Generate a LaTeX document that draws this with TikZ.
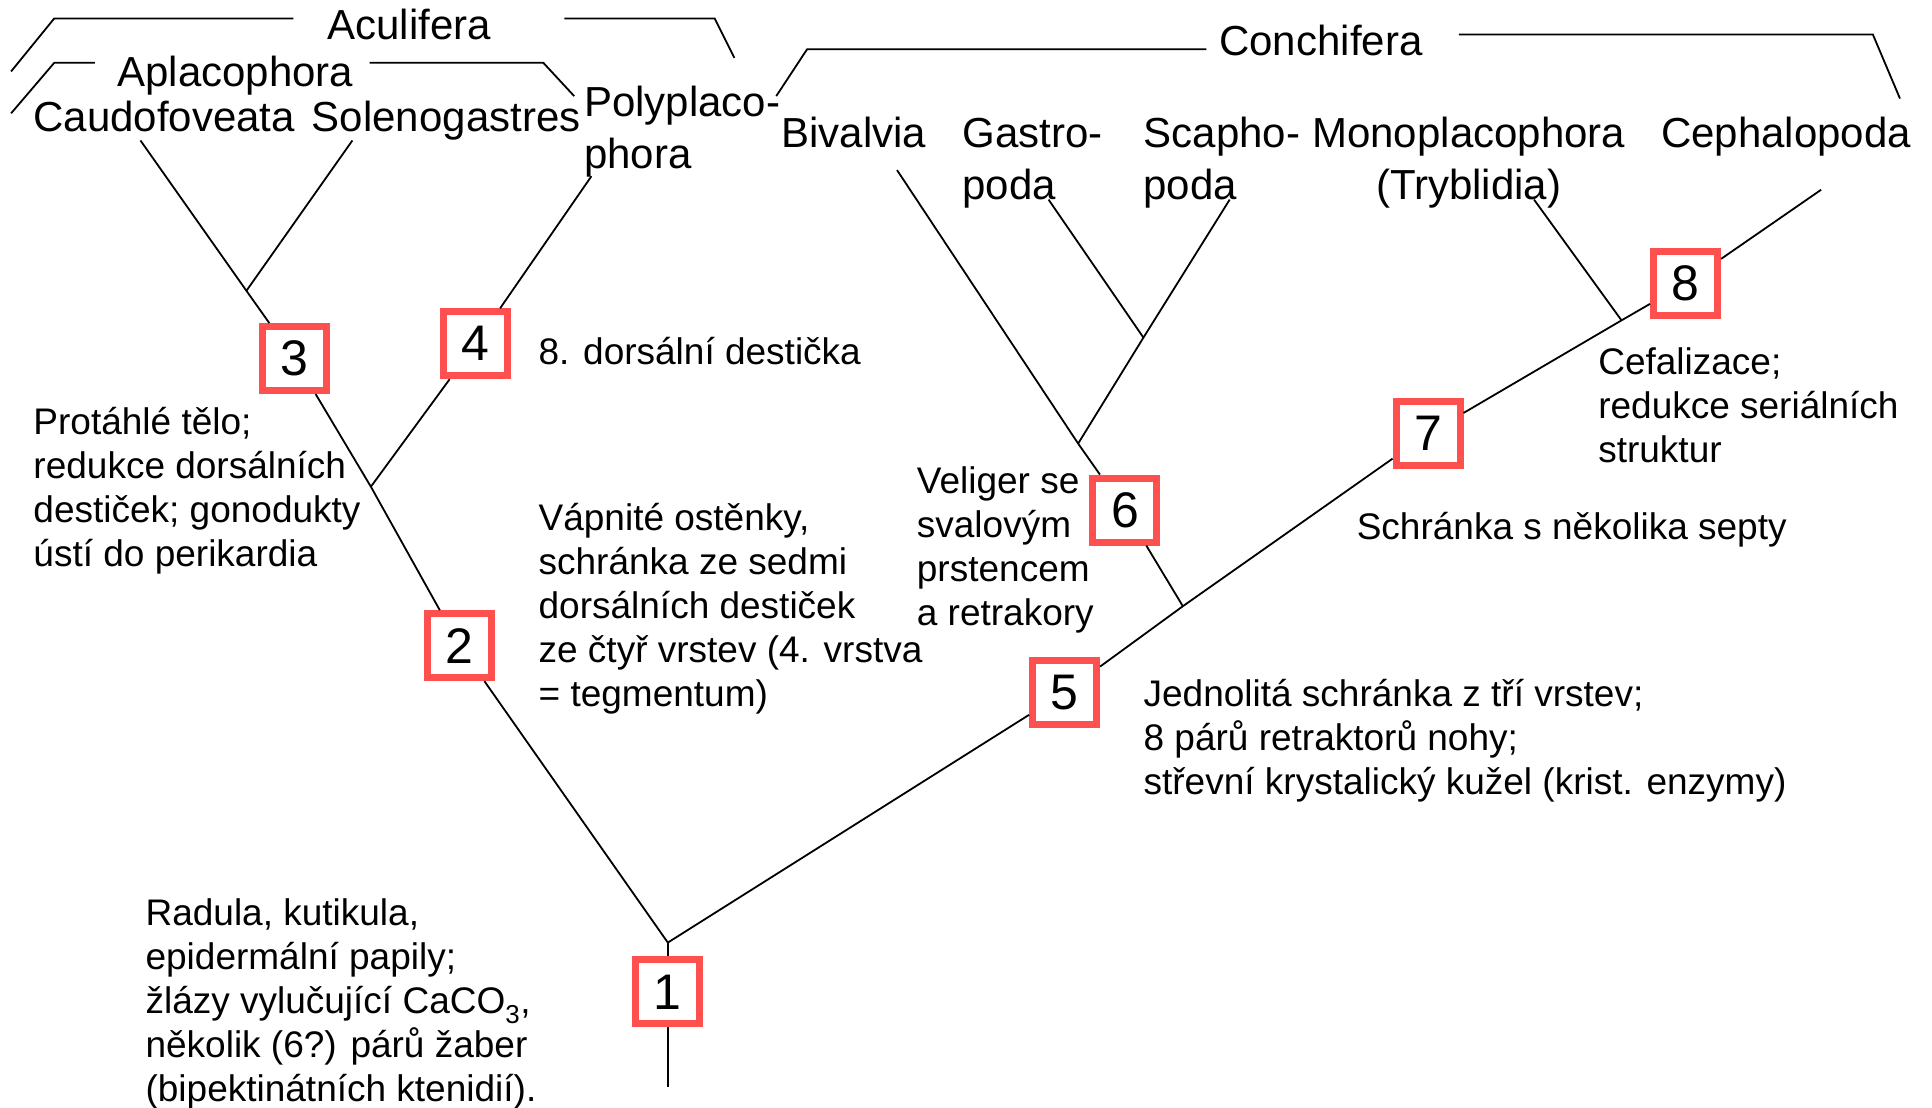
\documentclass[tikz,border=0pt]{standalone}
\usepackage{fontspec}
\setmainfont{Liberation Sans}
\usetikzlibrary{positioning}
\definecolor{boxred}{HTML}{FF5050}
\tikzset{
  taxon/.style={font=\fontsize{42}{52}\selectfont, inner sep=0pt, align=left},
  note/.style={font=\fontsize{37}{44}\selectfont, inner sep=0pt, align=left},
  synbox/.style={draw=boxred, line width=7pt, fill=white, minimum size=64pt,
                 inner sep=0pt, font=\fontsize{50}{50}\selectfont},
  br/.style={line width=1.8pt},
  tr/.style={line width=1.8pt}
}

\begin{document}
\begin{tikzpicture}[x=1.2321pt,y=-1.2321pt]
  \useasboundingbox (0,0) rectangle (1568,899);

  % clade brackets
  \node[taxon, anchor=base] (acu) at (332,32) {Aculifera};
  \node[taxon, anchor=base] (apl) at (191,70) {Aplacophora};
  \node[taxon, anchor=base] (con) at (1072,45) {Conchifera};
  \coordinate (acuA) at (9,58);   \coordinate (acuB) at (44,15);  \coordinate (acuC) at (238,15);
  \coordinate (acuD) at (458,15); \coordinate (acuE) at (580,15); \coordinate (acuF) at (596,47);
  \coordinate (aplA) at (9,92);   \coordinate (aplB) at (44,51);  \coordinate (aplC) at (77,51);
  \coordinate (aplD) at (300,51); \coordinate (aplE) at (441,51); \coordinate (aplF) at (466,78);
  \coordinate (conA) at (630,78);  \coordinate (conB) at (655,40);  \coordinate (conC) at (979,40);
  \coordinate (conD) at (1184,28); \coordinate (conE) at (1520,28); \coordinate (conF) at (1542,80);
  \draw[br] (acuA) -- (acuB) -- (acuC);
  \draw[br] (acuD) -- (acuE) -- (acuF);
  \draw[br] (aplA) -- (aplB) -- (aplC);
  \draw[br] (aplD) -- (aplE) -- (aplF);
  \draw[br] (conA) -- (conB) -- (conC);
  \draw[br] (conD) -- (conE) -- (conF);

  % taxa (base = last line)
  \node[taxon, anchor=base west] (tcau) at (27,107) {Caudofoveata};
  \node[taxon, anchor=base west] (tsol) at (253,107) {Solenogastres};
  \node[taxon, anchor=base west] (tpol) at (474,137) {Polyplaco-\\phora};
  \node[taxon, anchor=base west] (tbiv) at (634,120) {Bivalvia};
  \node[taxon, anchor=base west] (tgas) at (781,162) {Gastro-\\poda};
  \node[taxon, anchor=base west] (tsca) at (928,162) {Scapho-\\poda};
  \node[taxon, anchor=base, align=center] (tmon) at (1192,162) {Monoplacophora\\(Tryblidia)};
  \node[taxon, anchor=base west] (tcep) at (1348,120) {Cephalopoda};

  % synapomorphies
  \node[synbox] (b1) at (542,805) {1};
  \node[synbox] (b2) at (373,524) {2};
  \node[synbox] (b3) at (239,291) {3};
  \node[synbox] (b4) at (386,279) {4};
  \node[synbox] (b5) at (864,562) {5};
  \node[synbox] (b6) at (913,414) {6};
  \node[synbox] (b7) at (1159,352) {7};
  \node[synbox] (b8) at (1368,230) {8};

  \node[note, anchor=base west] (l1) at (118,894)
    {Radula, kutikula,\\epidermální papily;\\žlázy vylučující CaCO\textsubscript{3},\\několik (6?) párů žaber\\(bipektinátních ktenidií).};
  \node[note, anchor=base west] (l2) at (437,573)
    {Vápnité ostěnky,\\schránka ze sedmi\\dorsálních destiček\\ze čtyř vrstev (4. vrstva\\= tegmentum)};
  \node[note, anchor=base west] (l3) at (27,460)
    {Protáhlé tělo;\\redukce dorsálních\\destiček; gonodukty\\ústí do perikardia};
  \node[note, anchor=base west] (l4) at (437,296) {8. dorsální destička};
  \node[note, anchor=base west] (l5) at (928,645)
    {Jednolitá schránka z tří vrstev;\\8 párů retraktorů nohy;\\střevní krystalický kužel (krist. enzymy)};
  \node[note, anchor=base west] (l6) at (744,508) {Veliger se\\svalovým\\prstencem\\a retrakory};
  \node[note, anchor=base west] (l7) at (1101,438) {Schránka s několika septy};
  \node[note, anchor=base west] (l8) at (1297,375) {Cefalizace;\\redukce seriálních\\struktur};

  % tree
  \coordinate (root) at (542,882);
  \coordinate (fork) at (542,765);
  \coordinate (jcs) at (200,236);
  \coordinate (j4) at (301,395);
  \coordinate (j6) at (960,492);
  \coordinate (jgs) at (875,360);
  \coordinate (jg) at (928,274);
  \coordinate (j8) at (1316,260);
  \coordinate (caud) at (114,114);
  \coordinate (sole) at (286,114);
  \coordinate (poly) at (480,143);
  \coordinate (biva) at (728,138);
  \coordinate (gast) at (851,162);
  \coordinate (scap) at (998,162);
  \coordinate (mono) at (1245,162);
  \coordinate (ceph) at (1478,154);

  \draw[tr] (root) -- (b1) -- (fork);
  \draw[tr] (fork) -- (b2) -- (j4) -- (b3) -- (jcs) -- (caud);
  \draw[tr] (jcs) -- (sole);
  \draw[tr] (j4) -- (b4) -- (poly);
  \draw[tr] (fork) -- (b5) -- (j6) -- (b7) -- (j8) -- (b8) -- (ceph);
  \draw[tr] (j6) -- (b6) -- (jgs) -- (biva);
  \draw[tr] (jgs) -- (jg) -- (scap);
  \draw[tr] (jg) -- (gast);
  \draw[tr] (j8) -- (mono);
\end{tikzpicture}
\end{document}
